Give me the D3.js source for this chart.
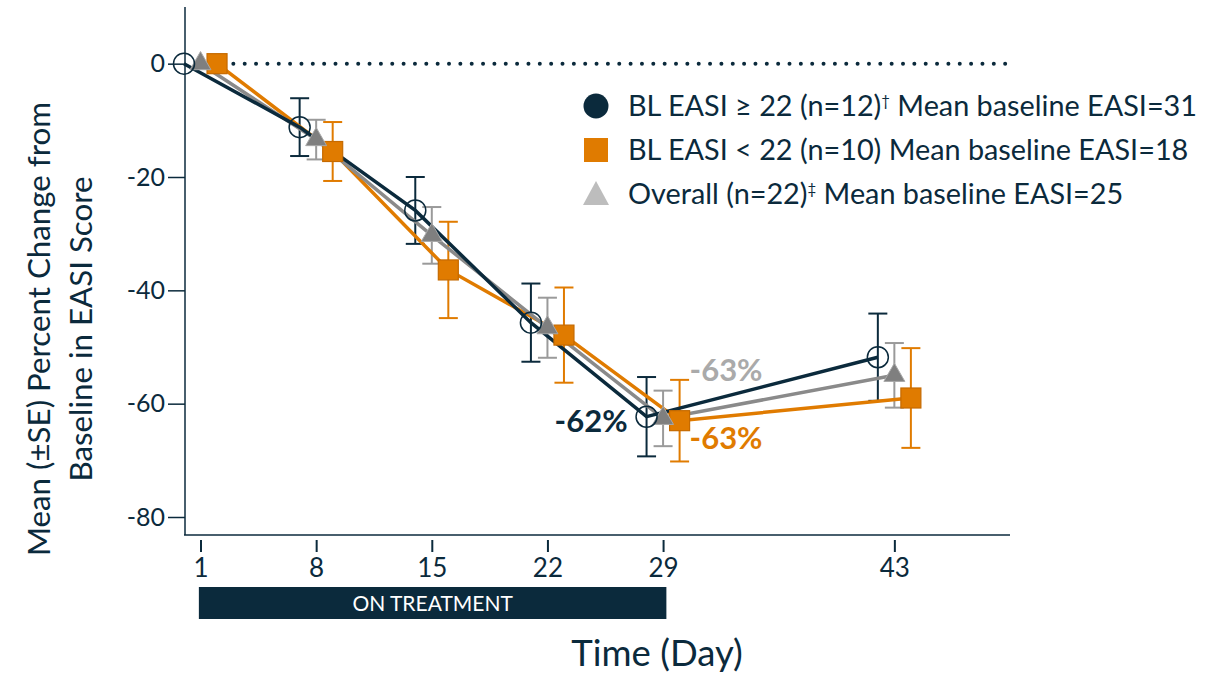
<!DOCTYPE html>
<html>
<head>
<meta charset="utf-8">
<script src="https://cdn.jsdelivr.net/npm/d3@7"></script>
<style>
  body { margin: 0; background: #fff; }
  text { font-family: Lato, "Open Sans", sans-serif; }
</style>
</head>
<body>
<svg width="1214" height="676"></svg>
<script>
// values (percent change from baseline, +/- SE)
var days = [1, 8, 15, 22, 29, 43];
var highMean = [0, -11.2, -25.9, -45.7, -62.3, -51.8];
var highSE   = [0, 5.1, 5.9, 6.9, 7.0, 7.7];
var lowMean  = [0, -15.5, -36.4, -47.9, -63.0, -59.0];
var lowSE    = [0, 5.2, 8.5, 8.4, 7.2, 8.8];
var allMean  = [0, -13.4, -30.3, -46.6, -62.6, -55.0];
var allSE    = [0, 3.5, 5.0, 5.3, 4.9, 5.7];
var yTicks = [0, -20, -40, -60, -80];
var legendLabels = [
  ["BL EASI \u2265 22 (n=12)", "\u2020", " Mean baseline EASI=31"],
  ["BL EASI < 22 (n=10)", "", " Mean baseline EASI=18"],
  ["Overall (n=22)", "\u2021", " Mean baseline EASI=25"]
];
var endLabels = ["-62%", "-63%", "-63%"];

var navy = "#0b2a3c", orange = "#e07b00", grey = "#8a8a8a", lightGrey = "#bdbdbd";

var svg = d3.select("svg");

var x = d3.scaleLinear().domain([0, 50]).range([184, 1010]);
var y = d3.scaleLinear().domain([-83, 10]).range([534, 7]);

// axes
var yAxis = svg.append("g")
    .attr("transform", "translate(185,0)")
    .call(d3.axisLeft(y).tickValues(yTicks).tickSize(17).tickPadding(3).tickFormat(function(d) { return String(d); }));
yAxis.select(".domain").attr("stroke", navy).attr("stroke-width", 1.5).attr("d", "M0," + y(10) + "V" + 535);
yAxis.selectAll(".tick line").attr("stroke", navy).attr("stroke-width", 1.5);
yAxis.selectAll(".tick text").attr("fill", navy).style("font-size", "25px").style("font-family", "Lato");

var xAxis = svg.append("g")
    .attr("transform", "translate(0,535)")
    .call(d3.axisBottom(x).tickValues(days).tickSize(0).tickPadding(24));
xAxis.select(".domain").attr("stroke", navy).attr("stroke-width", 1.5).attr("d", "M184,0H1010");
xAxis.selectAll(".tick line").attr("stroke", navy).attr("stroke-width", 2).attr("y1", 5).attr("y2", 17);
xAxis.selectAll(".tick text").attr("fill", navy).style("font-size", "26px").style("font-family", "Lato");

// reference line at 0
svg.append("line")
    .attr("x1", 222).attr("x2", 1006)
    .attr("y1", y(0)).attr("y2", y(0))
    .attr("stroke", navy).attr("stroke-width", 4)
    .attr("stroke-linecap", "round")
    .attr("stroke-dasharray", "0 11.35");

// on treatment bar
svg.append("rect")
    .attr("x", x(0.9)).attr("y", 587)
    .attr("width", x(29.2) - x(0.9)).attr("height", 32)
    .attr("fill", navy);
svg.append("text")
    .attr("x", (x(0.9) + x(29.2)) / 2).attr("y", 611)
    .attr("text-anchor", "middle").attr("fill", "#fff")
    .style("font-size", "21px")
    .text("ON TREATMENT");

// titles
svg.append("text")
    .attr("x", 657).attr("y", 666)
    .attr("text-anchor", "middle").attr("fill", navy)
    .style("font-size", "36.5px")
    .text("Time (Day)");
var yt = svg.append("text")
    .attr("transform", "translate(50,329) rotate(-90)")
    .attr("text-anchor", "middle").attr("fill", navy)
    .style("font-size", "31.3px");
yt.append("tspan").attr("x", 0).attr("y", 0).text("Mean (\u00b1SE) Percent Change from");
yt.append("tspan").attr("x", 0).attr("y", 42).text("Baseline in EASI Score");

// series
var series = [
  {mean: lowMean, se: lowSE, off: 1, color: orange, err: orange},
  {mean: allMean, se: allSE, off: 0, color: grey, err: "#9a9a9a"},
  {mean: highMean, se: highSE, off: -1, color: navy, err: navy}
];
series.forEach(function(s) {
  s.pts = days.map(function(d, i) { return {x: d + s.off, m: s.mean[i], se: s.se[i]}; });
});

var line = d3.line().x(function(d) { return x(d.x); }).y(function(d) { return y(d.m); });

// error bars
series.forEach(function(s) {
  var g = svg.append("g").attr("stroke", s.err).attr("stroke-width", 2);
  var pts = s.pts.filter(function(d) { return d.se > 0; });
  g.selectAll(".v").data(pts).enter().append("line")
      .attr("x1", function(d) { return x(d.x); }).attr("x2", function(d) { return x(d.x); })
      .attr("y1", function(d) { return y(d.m + d.se); }).attr("y2", function(d) { return y(d.m - d.se); });
  [1, -1].forEach(function(sg) {
    g.selectAll(".c" + sg).data(pts).enter().append("line")
        .attr("x1", function(d) { return x(d.x) - 9.5; }).attr("x2", function(d) { return x(d.x) + 9.5; })
        .attr("y1", function(d) { return y(d.m + sg * d.se); }).attr("y2", function(d) { return y(d.m + sg * d.se); });
  });
});

// lines
series.forEach(function(s) {
  svg.append("path").datum(s.pts)
      .attr("fill", "none").attr("stroke", s.color).attr("stroke-width", 3.5)
      .attr("d", line);
});

// markers
svg.append("g").selectAll("rect").data(series[0].pts).enter().append("rect")
    .attr("x", function(d) { return x(d.x) - 10; }).attr("y", function(d) { return y(d.m) - 10; })
    .attr("width", 20).attr("height", 20)
    .attr("fill", orange).attr("stroke", "#c56a00").attr("stroke-width", 1.2);
svg.append("g").selectAll("path").data(series[1].pts).enter().append("path")
    .attr("transform", function(d) { return "translate(" + x(d.x) + "," + y(d.m) + ")"; })
    .attr("d", d3.symbol().type(d3.symbolTriangle).size(190))
    .attr("fill", "#7f7f7f").attr("stroke", "#a8a8a8").attr("stroke-width", 1);
svg.append("g").selectAll("circle").data(series[2].pts).enter().append("circle")
    .attr("cx", function(d) { return x(d.x); }).attr("cy", function(d) { return y(d.m); })
    .attr("r", 10.5)
    .attr("fill", "none").attr("stroke", navy).attr("stroke-width", 1.5);

// end-of-treatment labels
var i29 = days.indexOf(29);
svg.append("text")
    .attr("x", x(28) - 19).attr("y", y(highMean[i29]) + 15)
    .attr("text-anchor", "end").attr("fill", navy)
    .style("font-size", "31px").style("font-weight", "bold")
    .text(endLabels[0]);
svg.append("text")
    .attr("x", x(30) + 10).attr("y", y(allMean[i29]) - 37)
    .attr("fill", "#aaaaaa")
    .style("font-size", "31px").style("font-weight", "bold")
    .text(endLabels[1]);
svg.append("text")
    .attr("x", x(30) + 10).attr("y", y(lowMean[i29]) + 28)
    .attr("fill", orange)
    .style("font-size", "31px").style("font-weight", "bold")
    .text(endLabels[2]);

// legend
var lg = svg.append("g").attr("transform", "translate(596,106)");
lg.append("circle").attr("cx", 0).attr("cy", 0).attr("r", 12.5).attr("fill", navy);
lg.append("rect").attr("x", -12).attr("y", 44 - 12).attr("width", 24).attr("height", 24).attr("fill", orange);
lg.append("path").attr("d", "M0,75 L13,99 L-13,99 Z").attr("fill", lightGrey);
legendLabels.forEach(function(l, i) {
  var t = lg.append("text").attr("x", 32).attr("y", i * 44 + 10)
      .attr("fill", navy).style("font-size", "28.8px");
  t.append("tspan").text(l[0]);
  if (l[1]) t.append("tspan").attr("dy", -10).style("font-size", "15px").text(l[1]);
  t.append("tspan").attr("dy", l[1] ? 10 : 0).text(l[2]);
});
</script>
</body>
</html>
